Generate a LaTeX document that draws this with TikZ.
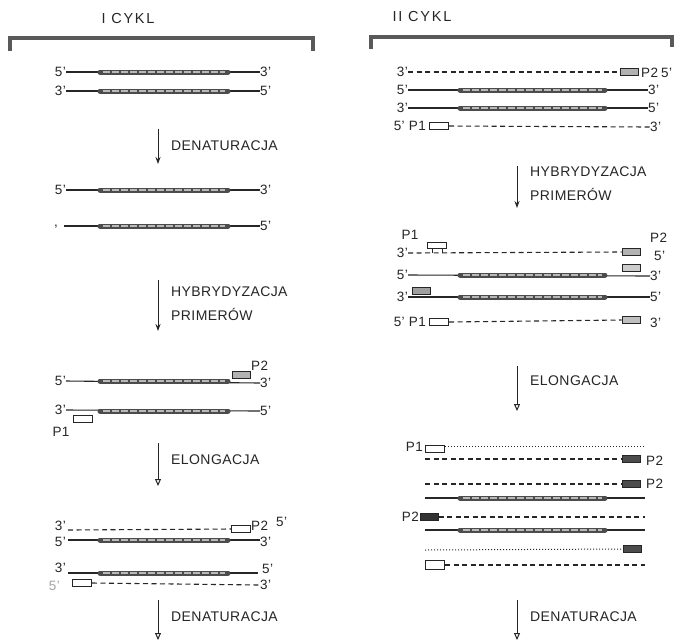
\documentclass[tikz,border=0pt]{standalone}
\usepackage{fontspec}
\setmainfont[LetterSpace=3]{Liberation Sans}
\usetikzlibrary{arrows.meta}
\definecolor{ink}{gray}{0.15}
\definecolor{coregray}{gray}{0.3}
\tikzset{
  lbl/.style={font=\fontsize{13.5}{14}\selectfont, text=ink, inner sep=0pt},
  titlelbl/.style={font=\fontsize{14.5}{15}\selectfont\addfontfeature{LetterSpace=12}, text=ink, inner sep=0pt},
  stagelbl/.style={font=\fontsize{14}{24}\selectfont, text=ink, inner sep=0pt, anchor=west, align=left},
  strandline/.style={line width=1.1pt, draw=ink},
  coreseg/.style={line width=5pt, draw=coregray, line cap=round},
  coreinner/.style={line width=1.3pt, draw=gray!55, dash pattern=on 7pt off 2pt},
  newdash/.style={line width=1.1pt, draw=ink, dash pattern=on 5pt off 3.5pt},
  newdot/.style={line width=1pt, draw=ink, dash pattern=on 1pt off 2pt},
  popen/.style={draw=ink, line width=1pt, fill=white, minimum width=19pt, minimum height=7pt, inner sep=0pt},
  pgray/.style={draw=ink, line width=1pt, fill=gray!60, minimum width=18pt, minimum height=7pt, inner sep=0pt},
  pdark/.style={draw=ink, line width=1pt, fill=black!80, minimum width=18pt, minimum height=7pt, inner sep=0pt},
  procarrow/.style={line width=1pt, draw=ink, -{Stealth[length=7pt,width=5pt]}},
  openarrow/.style={line width=1pt, draw=ink, -{Triangle[open,length=7pt,width=6pt]}},
  bracketline/.style={line width=3.5pt, draw=black!65}
}
\newcommand\lcore[1]{\draw[coreseg] (100,#1) -- (228,#1); \draw[coreinner] (103,#1) -- (225,#1);}
\newcommand\rcore[1]{\draw[coreseg] (460,#1) -- (605,#1); \draw[coreinner] (463,#1) -- (602,#1);}
\begin{document}
\begin{tikzpicture}[x=1pt,y=-1pt]
\useasboundingbox[fill=white] (0,0) rectangle (676,641);

% ================= I CYKL =================
\node[titlelbl] (t1) at (128,19) {I CYKL};
\coordinate (b1a) at (10,51); \coordinate (b1b) at (10,38);
\coordinate (b1c) at (313,38); \coordinate (b1d) at (313,51);
\draw[bracketline] (b1a) -- (b1b) -- (b1c) -- (b1d);

% row 1
\node[lbl,anchor=east] (L1l) at (66,72) {5'};
\node[lbl,anchor=west] (L1r) at (260,72) {3'};
\draw[strandline] (L1l.east) -- (L1r.west);
\lcore{72}
% row 2
\node[lbl,anchor=east] (L2l) at (66,91) {3'};
\node[lbl,anchor=west] (L2r) at (260,91) {5'};
\draw[strandline] (L2l.east) -- (L2r.west);
\lcore{91}

\coordinate (d1s) at (158,129); \coordinate (d1e) at (158,164);
\draw[procarrow] (d1s) -- (d1e);
\node[stagelbl] (d1t) at (171,146) {DENATURACJA};

% row 3
\node[lbl,anchor=east] (L3l) at (66,190) {5'};
\node[lbl,anchor=west] (L3r) at (260,190) {3'};
\draw[strandline] (L3l.east) -- (L3r.west);
\lcore{190}
% row 4
\node[lbl,anchor=east] (L4l) at (58,227) {,};
\coordinate (L4s) at (64,226);
\node[lbl,anchor=west] (L4r) at (260,226) {5'};
\draw[strandline] (L4s) -- (L4r.west);
\lcore{226}

\coordinate (h1s) at (158,280); \coordinate (h1e) at (158,331);
\draw[procarrow] (h1s) -- (h1e);
\node[stagelbl] (h1t) at (171,304) {HYBRYDYZACJA\\PRIMERÓW};

% row 5
\node[lbl,anchor=east] (L5l) at (66,381) {5'};
\node[lbl,anchor=west] (L5r) at (260,383) {3'};
\draw[strandline] (L5l.east) -- (L5r.west);
\lcore{381}
\node[pgray] (L5p) at (241,375) {};
\node[lbl,anchor=west] (L5pt) at (251,366) {P2};
% row 6
\node[lbl,anchor=east] (L6l) at (66,410) {3'};
\node[lbl,anchor=west] (L6r) at (260,411) {5'};
\draw[strandline] (L6l.east) -- (L6r.west);
\lcore{411}
\node[popen] (L6p) at (83,419) {};
\node[lbl] (L6pt) at (61,432) {P1};

\coordinate (e1s) at (158,443); \coordinate (e1e) at (158,486);
\draw[openarrow] (e1s) -- (e1e);
\node[stagelbl] (e1t) at (171,460) {ELONGACJA};

% row 7 (new strand, dashed)
\node[lbl,anchor=east] (L7l) at (66,526) {3'};
\coordinate (L7s) at (68,530);
\node[popen] (L7p) at (241,529) {};
\draw[newdash] (L7s) -- (L7p.west);
\node[lbl,anchor=west] (L7pt) at (251,526) {P2};
\node[lbl,anchor=west] (L7r) at (276,522) {5'};
% row 8
\node[lbl,anchor=east] (L8l) at (66,542) {5'};
\coordinate (L8s) at (68,540);
\node[lbl,anchor=west] (L8r) at (260,542) {3'};
\draw[strandline] (L8s) -- (L8r.west |- L8s);
\lcore{540}
% row 9
\node[lbl,anchor=east] (L9l) at (66,568) {3'};
\coordinate (L9s) at (68,573);
\node[lbl,anchor=west] (L9r) at (262,569) {5'};
\coordinate (L9e) at (258,573);
\draw[strandline] (L9s) -- (L9e);
\lcore{573}
% row 10
\node[lbl,anchor=east,text=gray!70] (L10l) at (60,586) {5'};
\node[popen] (L10p) at (82,583) {};
\node[lbl,anchor=west] (L10r) at (260,585) {3'};
\draw[newdash] (L10p.east) -- (L10r.west);

\coordinate (d2s) at (158,600); \coordinate (d2e) at (158,640);
\draw[openarrow] (d2s) -- (d2e);
\node[stagelbl] (d2t) at (171,617) {DENATURACJA};

% ================= II CYKL =================
\node[titlelbl] (t2) at (422,17) {II CYKL};
\coordinate (b2a) at (371,49); \coordinate (b2b) at (371,37);
\coordinate (b2c) at (672,37); \coordinate (b2d) at (672,47);
\draw[bracketline] (b2a) -- (b2b) -- (b2c) -- (b2d);

% row 1
\node[lbl,anchor=east] (R1l) at (408,72) {3'};
\node[pgray] (R1p) at (629,72) {};
\draw[newdash] (R1l.east) -- (R1p.west);
\node[lbl,anchor=west] (R1pt) at (641,73) {P2};
\node[lbl,anchor=west] (R1r) at (661,73) {5'};
% row 2
\node[lbl,anchor=east] (R2l) at (408,90) {5'};
\node[lbl,anchor=west] (R2r) at (648,90) {3'};
\draw[strandline] (R2l.east) -- (R2r.west);
\rcore{90}
% row 3
\node[lbl,anchor=east] (R3l) at (408,108) {3'};
\node[lbl,anchor=west] (R3r) at (648,108) {5'};
\draw[strandline] (R3l.east) -- (R3r.west);
\rcore{108}
% row 4
\node[lbl,anchor=east] (R4l) at (426,126) {5' P1};
\node[popen] (R4p) at (439,126) {};
\node[lbl,anchor=west] (R4r) at (650,127) {3'};
\draw[newdash] (R4p.east) -- (R4r.west);

\coordinate (h2s) at (517,166); \coordinate (h2e) at (517,208);
\draw[procarrow] (h2s) -- (h2e);
\node[stagelbl] (h2t) at (530,184) {HYBRYDYZACJA\\PRIMERÓW};

% row 5
\node[lbl] (R5pt1) at (410,235) {P1};
\node[lbl,anchor=east] (R5l) at (408,253) {3'};
\node[pgray] (R5q) at (631,252) {};
\draw[newdash] (R5l.east) -- (R5q.west);
\node[popen,minimum height=6pt] (R5p) at (437,245) {};
\draw[line width=1pt, draw=ink] ([xshift=-5pt]R5p.south) -- ++(0,4) ([xshift=5pt]R5p.south) -- ++(0,4);
\node[lbl,anchor=west] (R5pt2) at (650,238) {P2};
\node[lbl,anchor=west] (R5r) at (654,256) {5'};
% row 6
\node[lbl,anchor=east] (R6l) at (408,275) {5'};
\node[lbl,anchor=west] (R6r) at (650,276) {3'};
\draw[strandline] (R6l.east) -- (R6r.west);
\rcore{275}
\node[pgray,fill=gray!40] (R6p) at (631,268) {};
% row 7
\node[lbl,anchor=east] (R7l) at (408,297) {3'};
\node[lbl,anchor=west] (R7r) at (650,297) {5'};
\draw[strandline] (R7l.east) -- (R7r.west);
\rcore{297}
\node[pgray,fill=gray!75] (R7p) at (421,291) {};
% row 8
\node[lbl,anchor=east] (R8l) at (426,322) {5' P1};
\node[popen] (R8p) at (439,322) {};
\node[pgray,fill=gray!50] (R8q) at (631,320) {};
\draw[newdash] (R8p.east) -- (R8q.west);
\node[lbl,anchor=west] (R8r) at (650,323) {3'};

\coordinate (e2s) at (517,366); \coordinate (e2e) at (517,411);
\draw[openarrow] (e2s) -- (e2e);
\node[stagelbl] (e2t) at (530,381) {ELONGACJA};

% row 9
\node[lbl,anchor=east] (R9pt) at (423,447) {P1};
\node[popen] (R9p) at (435,449) {};
\coordinate (R9e) at (645,446);
\draw[newdot] (R9p.east |- R9e) -- (R9e);
% row 10
\coordinate (R10s) at (425,459);
\node[pdark,fill=black!70] (R10p) at (631,459) {};
\draw[newdash] (R10s) -- (R10p.west);
\node[lbl,anchor=west] (R10pt) at (646,461) {P2};
% row 11
\coordinate (R11s) at (425,484);
\node[pdark,fill=black!70] (R11p) at (631,484) {};
\draw[newdash] (R11s) -- (R11p.west);
\node[lbl,anchor=west] (R11pt) at (646,484) {P2};
% row 12
\coordinate (R12s) at (425,498); \coordinate (R12e) at (645,498);
\draw[strandline] (R12s) -- (R12e);
\rcore{498}
% row 13
\node[lbl,anchor=east] (R13pt) at (419,517) {P2};
\node[pdark] (R13p) at (429,517) {};
\coordinate (R13e) at (645,517);
\draw[newdash] (R13p.east) -- (R13e);
% row 14
\coordinate (R14s) at (425,530); \coordinate (R14e) at (645,530);
\draw[strandline] (R14s) -- (R14e);
\rcore{530}
% row 15
\coordinate (R15s) at (425,550);
\node[pdark,fill=black!70] (R15p) at (632,549) {};
\draw[newdot] (R15s) -- (R15p.west);
% row 16
\node[popen,minimum height=9pt] (R16p) at (435,565) {};
\coordinate (R16e) at (645,565);
\draw[newdash] (R16p.east) -- (R16e);

\coordinate (d3s) at (517,600); \coordinate (d3e) at (517,640);
\draw[openarrow] (d3s) -- (d3e);
\node[stagelbl] (d3t) at (530,617) {DENATURACJA};
\end{tikzpicture}
\end{document}
